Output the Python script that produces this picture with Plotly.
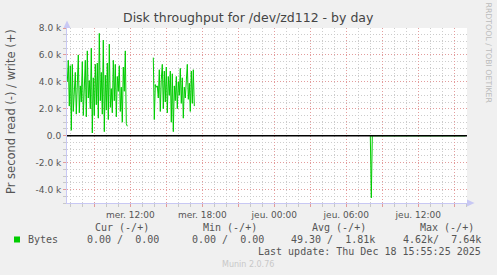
import numpy as np
import pandas as pd
import plotly.graph_objects as go

# ---------------- data ----------------
write_chunk1 = [4000, 5600, 2200, 5200, 400, 5300, 1800, 3900, 4700, 1600, 3800, 6000,
                1700, 3700, 2500, 5500, 1500, 3200, 5600, 1400, 6300, 2800, 4100, 2000,
                6500, 200, 4300, 1500, 5300, 2300, 5400, 1300, 7600, 2600, 4700, 1600,
                7100, 300, 4500, 1900, 5400, 1200, 6800, 2100, 3500, 1700, 5600, 2600,
                5300, 1400, 4400, 3300, 5200, 1800, 3600, 1000, 5100, 3300, 6300, 900, 700]
write_chunk2 = [5800, 1200, 3800, 3600, 3700, 2800, 4900, 1800, 4200, 5300, 2000, 4800,
                2500, 5100, 1700, 4400, 3000, 4800, 1000, 4600, 300, 3700, 2600, 4400,
                2000, 4000, 3000, 5000, 2400, 4300, 1300, 3600, 2800, 4700, 5300, 2700,
                3900, 1800, 4800, 2400, 4900, 2200]
chunk1_start = "2025-12-17 06:45"
chunk2_start = "2025-12-17 13:55"
zero_from = "2025-12-18 08:00"
read_spike_time = "2025-12-18 08:05"
read_spike_value = 4620
series_start = "2025-12-17 06:45"
series_end = "2025-12-18 15:55"

x_range = ["2025-12-17 06:43:30", "2025-12-18 16:03:30"]
y_range = [-5000, 8000]

x_tickvals = ["2025-12-17 09:00", "2025-12-17 12:00", "2025-12-17 15:00", "2025-12-17 18:00",
              "2025-12-17 21:00", "2025-12-18 00:00", "2025-12-18 03:00", "2025-12-18 06:00",
              "2025-12-18 09:00", "2025-12-18 12:00", "2025-12-18 15:00"]
x_ticktext = ["", "mer. 12:00", "", "mer. 18:00", "", "jeu. 00:00", "", "jeu. 06:00",
              "", "jeu. 12:00", ""]
y_tickvals = [-4000, -2000, 0, 2000, 4000, 6000, 8000]
y_ticktext = ["-4.0 k", "-2.0 k", "0.0", "2.0 k", "4.0 k", "6.0 k", "8.0 k"]

title = "Disk throughput for /dev/zd112 - by day"
y_title = "Pr second read (-) / write (+)"
legend_headers = ["Cur (-/+)", "Min (-/+)", "Avg (-/+)", "Max (-/+)"]
legend_values = ["0.00 /  0.00", "0.00 /  0.00", "49.30 /  1.81k", "4.62k/  7.64k"]
legend_name = "Bytes"
last_update = "Last update: Thu Dec 18 15:55:25 2025"
munin_version = "Munin 2.0.76"
rrd_credit = "RRDTOOL / TOBI OETIKER"

# ---------------- build series ----------------
step = pd.Timedelta("5min")
idx = pd.date_range(series_start, series_end, freq="5min")
write = pd.Series(np.nan, index=idx)
read = pd.Series(np.nan, index=idx)
s1 = pd.Timestamp(chunk1_start)
write[s1: s1 + step * (len(write_chunk1) - 1)] = write_chunk1
s2 = pd.Timestamp(chunk2_start)
write[s2: s2 + step * (len(write_chunk2) - 1)] = write_chunk2
write[zero_from:] = 0
read[zero_from:] = 0
read[pd.Timestamp(read_spike_time)] = read_spike_value

GREEN = "#00cc00"
TXT = "#555555"
MAJOR = "rgba(235,140,140,0.75)"
MINOR = "#cccccc"

fig = go.Figure()
fig.add_trace(go.Scatter(x=idx, y=-read.values, mode="lines",
                         line=dict(color=GREEN, width=1), connectgaps=False,
                         showlegend=False, hoverinfo="skip"))
fig.add_trace(go.Scatter(x=idx, y=write.values, mode="lines",
                         line=dict(color=GREEN, width=1), connectgaps=False,
                         showlegend=False, hoverinfo="skip"))

# plot area in pixels
L, R, T, B = 67, 467, 28, 203
W, H = R - L, B - T


def px(x):
    return (x - L) / W


def py(y):
    return (B - y) / H


font = dict(family="DejaVu Sans", size=9, color=TXT)
mono = dict(family="DejaVu Sans Mono", size=10, color=TXT)

fig.update_layout(
    width=497, height=275,
    margin=dict(l=L, r=497 - R, t=T, b=275 - B, pad=0),
    paper_bgcolor="#f0f0f0", plot_bgcolor="white",
    showlegend=False,
    xaxis=dict(
        type="date", range=x_range, tickvals=x_tickvals, ticktext=x_ticktext,
        tickfont=font, showgrid=True, gridcolor=MAJOR,
        griddash="1px,2px", gridwidth=1,
        ticks="outside", ticklen=3, tickcolor=MAJOR,
        showline=True, linecolor="#c8c8f4", linewidth=1,
        zeroline=False, fixedrange=True, layer="below traces",
        minor=dict(dtick=3600000, showgrid=True, gridcolor=MINOR, griddash="1px,2px",
                   gridwidth=1, ticks="outside", ticklen=3, tickcolor="#c8c8c8"),
    ),
    yaxis=dict(
        range=y_range, tickvals=y_tickvals, ticktext=y_ticktext, tickfont=font,
        showgrid=True, gridcolor=MAJOR, griddash="1px,2px", gridwidth=1,
        ticks="outside", ticklen=3, tickcolor=MAJOR,
        showline=True, linecolor="#c8c8f4", linewidth=1,
        zeroline=False, fixedrange=True,
        minor=dict(dtick=500, showgrid=True, gridcolor=MINOR, griddash="1px,2px",
                   gridwidth=1, ticks="outside", ticklen=3, tickcolor="#c8c8c8"),
    ),
)

shapes = [
    dict(type="line", xref="paper", yref="y", x0=0, x1=1, y0=0, y1=0,
         line=dict(color="black", width=1.6), layer="above"),
    dict(type="path", xref="paper", yref="paper",
         path=f"M {px(63.5)} {py(28)} L {px(67)} {py(20.5)} L {px(70.5)} {py(28)} Z",
         fillcolor="#c8c8f4", line=dict(width=0)),
    dict(type="path", xref="paper", yref="paper",
         path=f"M {px(467)} {py(199.5)} L {px(474.5)} {py(203)} L {px(467)} {py(206.5)} Z",
         fillcolor="#c8c8f4", line=dict(width=0)),
    dict(type="rect", xref="paper", yref="paper",
         x0=px(14), x1=px(20), y0=py(242.5), y1=py(236.5),
         fillcolor=GREEN, line=dict(width=0)),
]
fig.update_layout(shapes=shapes)

ann = []
ann.append(dict(text=title, x=px(248), y=py(18), xanchor="center", yanchor="middle",
                font=dict(family="DejaVu Sans", size=12.5, color="#444444")))
ann.append(dict(text=y_title, x=px(11), y=py(112), xanchor="center", yanchor="middle",
                textangle=-90, font=dict(family="DejaVu Sans", size=11.5, color=TXT)))
ann.append(dict(text=rrd_credit, x=px(488.5), y=py(53), xanchor="center", yanchor="middle",
                textangle=90, font=dict(family="DejaVu Sans", size=7.8, color="#bbbbbb")))
header_right = [151, 259, 368, 476]
value_right = [161, 266, 377, 483]
for h, xr in zip(legend_headers, header_right):
    ann.append(dict(text=h.replace(" ", "\u00a0"), x=px(xr), y=py(227), xanchor="right",
                    yanchor="middle", font=mono))
for v, xr in zip(legend_values, value_right):
    ann.append(dict(text=v.replace(" ", "\u00a0"), x=px(xr), y=py(239.5), xanchor="right",
                    yanchor="middle", font=mono))
ann.append(dict(text=legend_name, x=px(26), y=py(239.5), xanchor="left", yanchor="middle",
                font=mono))
ann.append(dict(text=last_update.replace(" ", "\u00a0"), x=px(483), y=py(251.5),
                xanchor="right", yanchor="middle", font=mono))
ann.append(dict(text=munin_version, x=px(248), y=py(264), xanchor="center",
                yanchor="middle", font=dict(family="DejaVu Sans", size=8, color="#c8c8c8")))
for a in ann:
    a.update(xref="paper", yref="paper", showarrow=False)
fig.update_layout(annotations=ann)

fig.write_html("out.html", config={"displayModeBar": False})
